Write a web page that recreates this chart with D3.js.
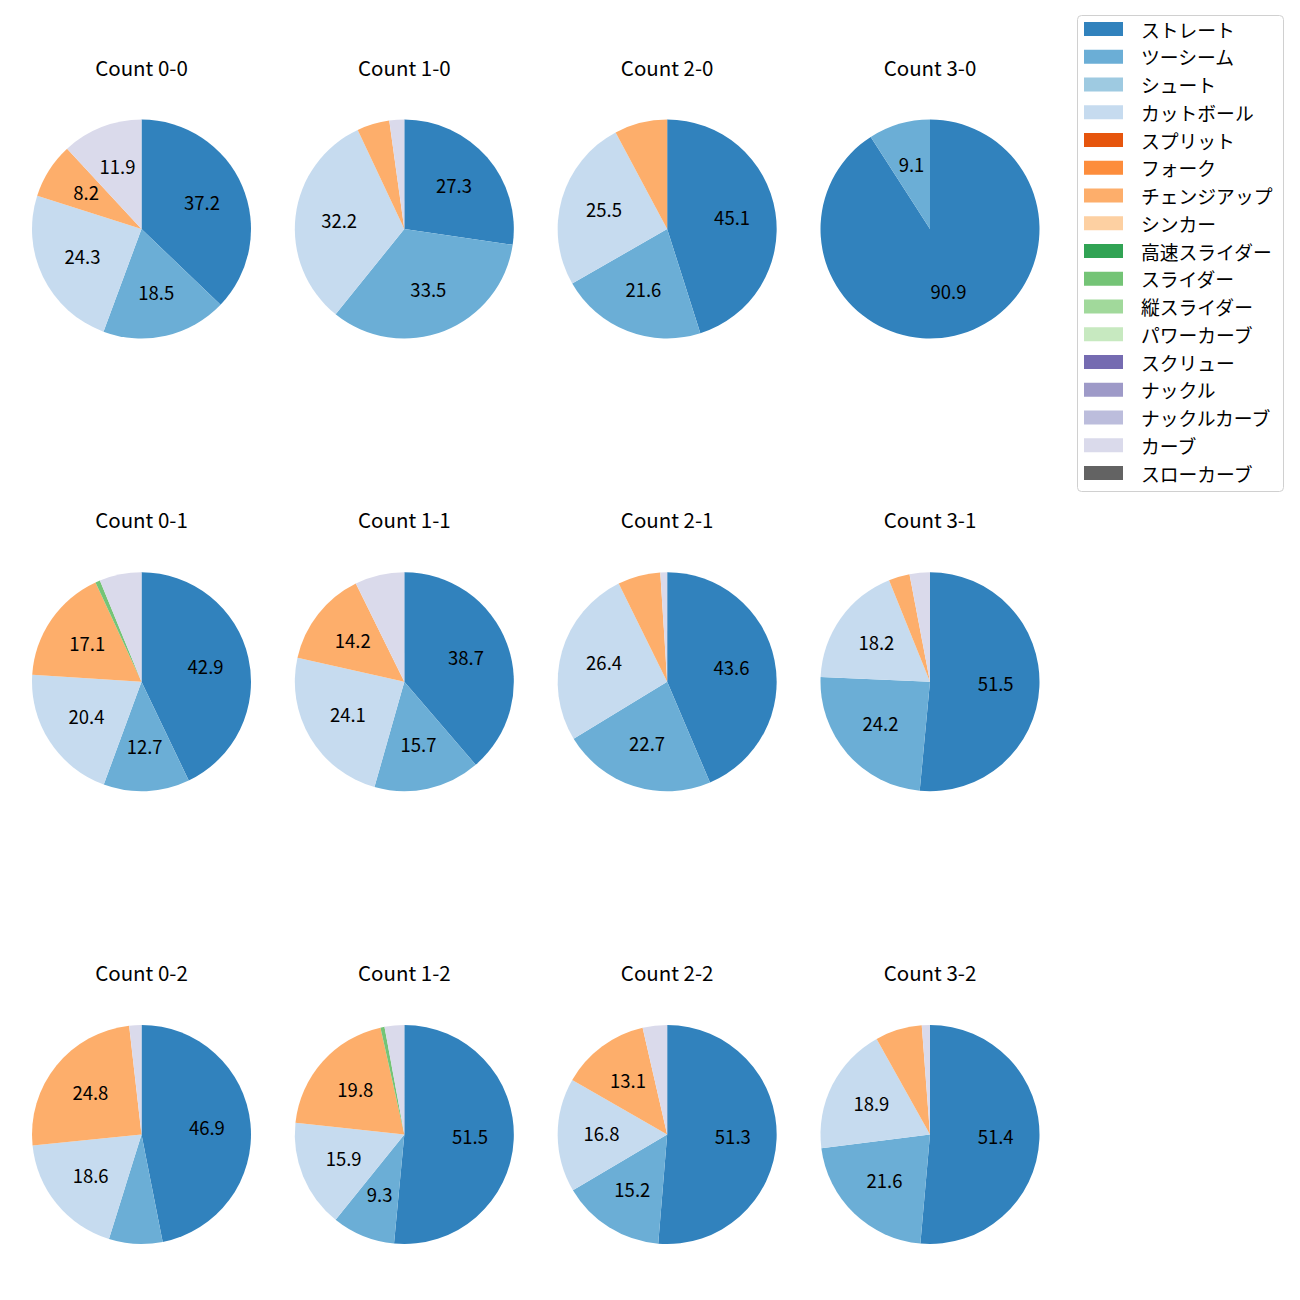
<!DOCTYPE html>
<html>
<head>
<meta charset="utf-8">
<script src="https://cdn.jsdelivr.net/npm/d3@7"></script>
<style>
  html, body { margin: 0; padding: 0; background: #fff; }
  svg { display: block; font-family: "Noto Sans CJK JP", "Noto Sans", sans-serif; }
</style>
</head>
<body>
<div id="chart"></div>
<script>
const pitchTypes = ["ストレート","ツーシーム","シュート","カットボール","スプリット","フォーク","チェンジアップ","シンカー","高速スライダー","スライダー","縦スライダー","パワーカーブ","スクリュー","ナックル","ナックルカーブ","カーブ","スローカーブ"];
const pitchColors = ["#3182bd","#6baed6","#9ecae1","#c6dbef","#e6550d","#fd8d3c","#fdae6b","#fdd0a2","#31a354","#74c476","#a1d99b","#c7e9c0","#756bb1","#9e9ac8","#bcbddc","#dadaeb","#636363"];
const counts = ["0-0","1-0","2-0","3-0","0-1","1-1","2-1","3-1","0-2","1-2","2-2","3-2"];
// Percent share per pitch type (same order as pitchTypes)
const share00 = [37.2,18.5,0,24.3,0,0,8.2,0,0,0,0,0,0,0,0,11.9,0];
const share10 = [27.3,33.5,0,32.2,0,0,4.8,0,0,0,0,0,0,0,0,2.2,0];
const share20 = [45.1,21.6,0,25.5,0,0,7.8,0,0,0,0,0,0,0,0,0,0];
const share30 = [90.9,9.1,0,0,0,0,0,0,0,0,0,0,0,0,0,0,0];
const share01 = [42.9,12.7,0,20.4,0,0,17.1,0,0,0.7,0,0,0,0,0,6.2,0];
const share11 = [38.7,15.7,0,24.1,0,0,14.2,0,0,0,0,0,0,0,0,7.3,0];
const share21 = [43.6,22.7,0,26.4,0,0,6.3,0,0,0,0,0,0,0,0,1.0,0];
const share31 = [51.5,24.2,0,18.2,0,0,3.1,0,0,0,0,0,0,0,0,3.0,0];
const share02 = [46.9,7.9,0,18.6,0,0,24.8,0,0,0,0,0,0,0,0,1.8,0];
const share12 = [51.5,9.3,0,15.9,0,0,19.8,0,0,0.6,0,0,0,0,0,2.9,0];
const share22 = [51.3,15.2,0,16.8,0,0,13.1,0,0,0,0,0,0,0,0,3.6,0];
const share32 = [51.4,21.6,0,18.9,0,0,6.9,0,0,0,0,0,0,0,0,1.2,0];
const shares = [share00,share10,share20,share30,share01,share11,share21,share31,share02,share12,share22,share32];
const labelThreshold = 8;

const W = 1300, H = 1300;
const svg = d3.select("#chart").append("svg").attr("width", W).attr("height", H);

const color = d3.scaleOrdinal().domain(pitchTypes).range(pitchColors);
const colX = d3.scalePoint().domain([0,1,2,3]).range([141.5, 930]);
const rowY = d3.scalePoint().domain([0,1,2]).range([229, 1134.5]);
const R = 109.5;

const pie = d3.pie().sort(null).value(d => d.v).startAngle(0).endAngle(2*Math.PI);
const arc = d3.arc().innerRadius(0).outerRadius(R);
const labelArc = d3.arc().innerRadius(R*0.6).outerRadius(R*0.6);

counts.forEach((c, i) => {
  const col = i % 4, row = Math.floor(i / 4);
  const cx = colX(col), cy = rowY(row);
  const g = svg.append("g").attr("transform", `translate(${cx},${cy})`);
  const data = pitchTypes.map((p, j) => ({p, v: shares[i][j]})).filter(d => d.v > 0);
  const arcs = pie(data);
  g.selectAll("path").data(arcs).enter().append("path")
    .attr("d", arc).attr("fill", d => color(d.data.p));
  g.selectAll("text.lbl").data(arcs.filter(d => d.data.v >= labelThreshold)).enter().append("text")
    .attr("class","lbl")
    .attr("transform", d => { const [x, y] = labelArc.centroid(d); return `translate(${x},${y - 1.5})`; })
    .attr("text-anchor","middle").attr("dominant-baseline","central")
    .attr("font-size", 18.5).attr("fill","#000")
    .text(d => d3.format(".1f")(d.data.v));
  svg.append("text")
    .attr("x", cx).attr("y", cy - R - 53)
    .attr("text-anchor","middle").attr("dominant-baseline","central")
    .attr("font-size", 20.5).attr("fill","#000")
    .text("Count " + c);
});

// Legend
const lg = svg.append("g");
const lgX = 1077, lgY = 15, lgW = 206, lgH = 476;
lg.append("rect").attr("x", lgX+0.5).attr("y", lgY+0.5).attr("width", lgW).attr("height", lgH)
  .attr("rx", 4).attr("fill","#fff").attr("stroke","#d0d0d0").attr("stroke-width",1);
const ly = d3.scalePoint().domain(pitchTypes).range([29, 473]);
pitchTypes.forEach(p => {
  lg.append("rect").attr("x", 1084).attr("y", ly(p) - 7).attr("width", 39).attr("height", 14)
    .attr("fill", color(p));
  lg.append("text").attr("x", 1141).attr("y", ly(p))
    .attr("dominant-baseline","central").attr("font-size", 18.8).attr("fill","#000")
    .text(p);
});
</script>
</body>
</html>
